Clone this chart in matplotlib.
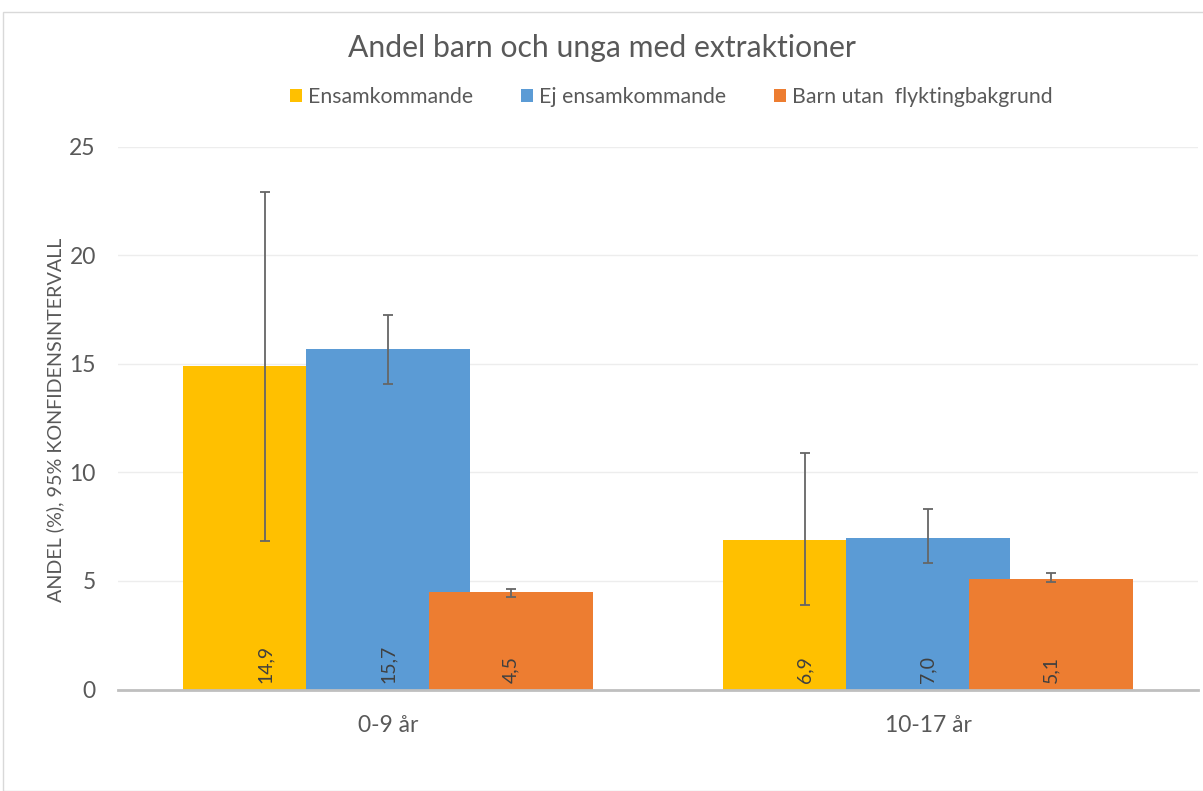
import matplotlib
matplotlib.use("Agg")
import matplotlib.pyplot as plt
from matplotlib.patches import Patch, Rectangle
import numpy as np

plt.rcParams['font.family'] = ['Lato', 'DejaVu Sans']

categories = ["0-9 år", "10-17 år"]
series = ["Ensamkommande", "Ej ensamkommande", "Barn utan  flyktingbakgrund"]
values = {
    "Ensamkommande": [14.9, 6.9],
    "Ej ensamkommande": [15.7, 7.0],
    "Barn utan  flyktingbakgrund": [4.5, 5.1],
}
ci_low = {
    "Ensamkommande": [6.85, 3.9],
    "Ej ensamkommande": [14.06, 5.82],
    "Barn utan  flyktingbakgrund": [4.25, 4.95],
}
ci_high = {
    "Ensamkommande": [22.9, 10.87],
    "Ej ensamkommande": [17.26, 8.31],
    "Barn utan  flyktingbakgrund": [4.64, 5.35],
}
labels = {
    "Ensamkommande": ["14,9", "6,9"],
    "Ej ensamkommande": ["15,7", "7,0"],
    "Barn utan  flyktingbakgrund": ["4,5", "5,1"],
}
colors = ["#FFC000", "#5B9BD5", "#ED7D31"]
yticks = [0, 5, 10, 15, 20, 25]

W, H = 1203, 791
fig = plt.figure(figsize=(W / 100, H / 100), dpi=100)
fig.patches.append(Rectangle((3 / W, 0), 1.2, 1 - 12 / H, transform=fig.transFigure,
                             fill=False, edgecolor="#D9D9D9", linewidth=1.0))

ax_left, ax_right = 118 / W, 1198 / W
ax_bottom, ax_top = (H - 689.5) / H, (H - 146.7) / H
ax = fig.add_axes([ax_left, ax_bottom, ax_right - ax_left, ax_top - ax_bottom])

x = np.arange(len(categories))
step = 0.2278
width = 0.3037
for i, (s, c) in enumerate(zip(series, colors)):
    pos = x + (i - 1) * step
    vals = np.array(values[s])
    ax.bar(pos, vals, width=width, color=c, zorder=2 + i, linewidth=0)
    lo = vals - np.array(ci_low[s])
    hi = np.array(ci_high[s]) - vals
    ax.errorbar(pos, vals, yerr=[lo, hi], fmt="none", ecolor="#666666",
                elinewidth=1.3, capsize=3.5, capthick=1.3, zorder=10)
    for p, lab in zip(pos, labels[s]):
        ax.annotate(lab, (p, 0), xytext=(0, 5), textcoords="offset points",
                    rotation=90, ha="center", va="bottom", fontsize=14,
                    color="#404040", zorder=11)

ax.set_xlim(-0.5, 1.5)
ax.set_ylim(0, 25)
ax.set_yticks(yticks)
ax.set_yticklabels([str(t) for t in yticks])
ax.set_xticks(x)
ax.set_xticklabels(categories)
ax.tick_params(axis="both", length=0, labelsize=16.5, labelcolor="#595959")
ax.tick_params(axis="y", pad=16)
ax.tick_params(axis="x", pad=18)
ax.grid(axis="y", color="#EDEDED", linewidth=1.0, zorder=0)
ax.set_axisbelow(True)
for sp in ["top", "right", "left"]:
    ax.spines[sp].set_visible(False)
ax.spines["bottom"].set_color("#BFBFBF")
ax.spines["bottom"].set_linewidth(2)
ax.spines["bottom"].set_zorder(20)

ax.set_ylabel("ANDEL (%), 95% KONFIDENSINTERVALL", fontsize=14.2, color="#595959")
ax.yaxis.set_label_coords((64 - 118) / (1198 - 118), (689.5 - 420) / (689.5 - 146.7))

fig.text(602 / W, 1 - 48 / H, "Andel barn och unga med extraktioner",
         ha="center", va="center", fontsize=21.7, color="#595959")

handles = [Patch(facecolor=c, edgecolor="none") for c in colors]
fig.legend(handles, series, loc="center", bbox_to_anchor=(671 / W, 1 - 97 / H),
           ncol=3, frameon=False, fontsize=15.3, handlelength=0.56, handleheight=0.56,
           handletextpad=0.28, columnspacing=2.26, labelcolor="#595959")

fig.savefig("out.png", dpi=100)
